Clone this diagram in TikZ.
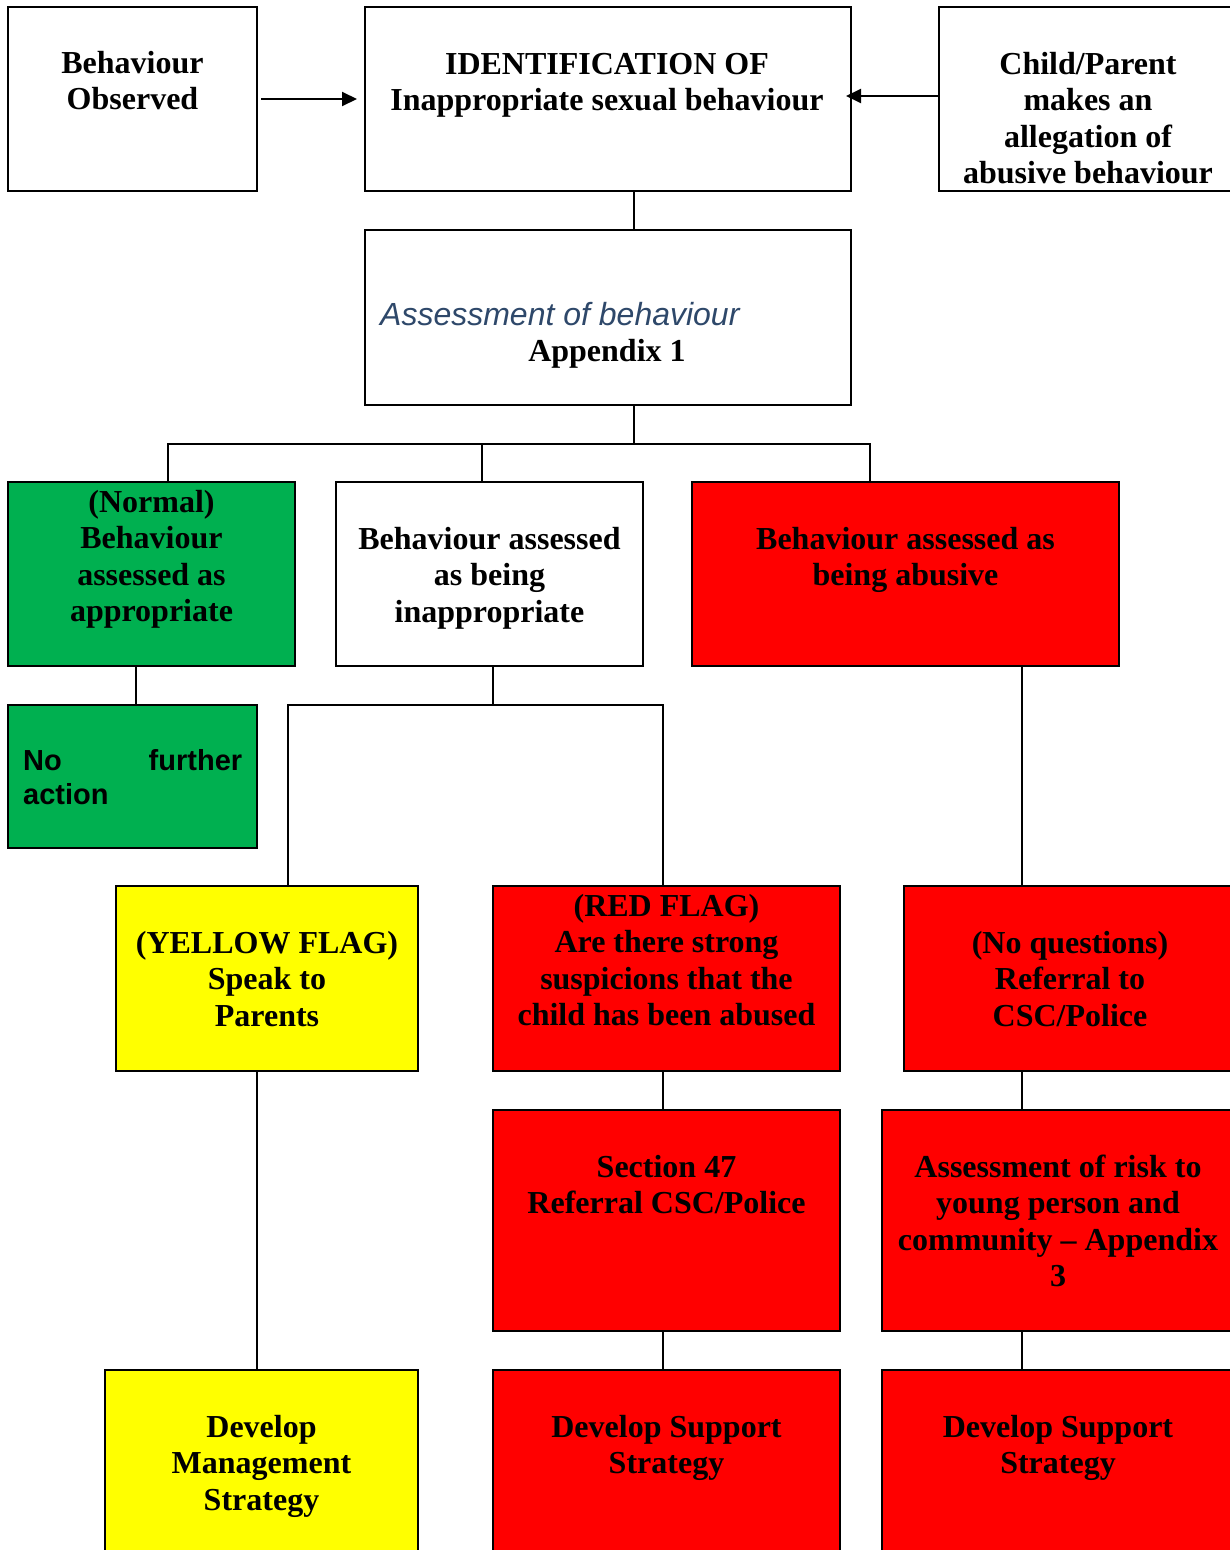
\documentclass[tikz,border=0pt]{standalone}
\usepackage{fontspec}
\setmainfont{Liberation Serif}
\newfontfamily\arialfont{Liberation Sans}
\usetikzlibrary{arrows.meta}

\definecolor{okgreen}{RGB}{0,176,80}
\definecolor{flagred}{RGB}{255,0,0}
\definecolor{flagyellow}{RGB}{255,255,0}
\definecolor{notecolor}{RGB}{46,72,106}

% centred lines, node baseline = first line's baseline
\newcommand\boxlines[1]{\vtop{\baselineskip=36.5pt\halign{\hfil##\hfil\cr #1\crcr}}}

% box from corner (x1,y1) to (x2,y2) in page pixels
\newcommand\flowbox[6]{%
  \pgfmathsetmacro\fbWidth{#5-#3}%
  \pgfmathsetmacro\fbHeight{#6-#4}%
  \node[#2, minimum width=\fbWidth pt, minimum height=\fbHeight pt] (#1)
    at ({(#3+#5)/2},{(#4+#6)/2}) {};}

\tikzset{
  frame/.style={draw=black, line width=2.4pt, inner sep=0pt, outer sep=0pt, rectangle},
  plainbox/.style={frame, fill=white},
  greenbox/.style={frame, fill=okgreen},
  redbox/.style={frame, fill=flagred},
  yellowbox/.style={frame, fill=flagyellow},
  conn/.style={draw=black, line width=2pt},
  arr/.style={conn, -{Triangle[length=15pt,width=14pt]}},
  label/.style={inner sep=0pt, anchor=base, font=\bfseries\fontsize{32}{36.5}\selectfont},
}

\begin{document}
\begin{tikzpicture}[x=1pt, y=-1pt]
\useasboundingbox (0,0) rectangle (1230,1550);
\clip (0,0) rectangle (1230,1550);

% boxes
\flowbox{obs}{plainbox}{8}{7}{257}{191}
\flowbox{ident}{plainbox}{365}{7}{851}{191}
\flowbox{child}{plainbox}{939}{7}{1237}{191}
\flowbox{assess}{plainbox}{365}{230}{851}{405}
\flowbox{normal}{greenbox}{8}{482}{295}{666}
\flowbox{inappr}{plainbox}{336}{482}{643}{666}
\flowbox{abusive}{redbox}{692}{482}{1119}{666}
\flowbox{nfa}{greenbox}{8}{705}{257}{848}
\flowbox{yellow}{yellowbox}{116}{886}{418}{1071}
\flowbox{redflag}{redbox}{493}{886}{840}{1071}
\flowbox{noq}{redbox}{904}{886}{1236}{1071}
\flowbox{s47}{redbox}{493}{1110}{840}{1331}
\flowbox{risk}{redbox}{882}{1110}{1234}{1331}
\flowbox{devm}{yellowbox}{105}{1370}{418}{1600}
\flowbox{devsa}{redbox}{493}{1370}{840}{1600}
\flowbox{devsb}{redbox}{882}{1370}{1234}{1600}

% texts
\node[label] (tobs) at (132.5,73) {\boxlines{Behaviour\cr Observed}};
\node[label] (tident) at (607,74) {\boxlines{IDENTIFICATION OF\cr Inappropriate sexual behaviour}};
\node[label] (tchild) at (1088,74) {\boxlines{Child/Parent\cr makes an\cr allegation of\cr abusive behaviour}};
\node[inner sep=0pt, anchor=base west, text=notecolor,
      font=\arialfont\itshape\fontsize{32}{36.5}\selectfont] (tassess) at (380,325) {Assessment of behaviour};
\node[label] (tappx) at (607,361) {Appendix 1};
\node[label] (tnormal) at (151.5,512) {\boxlines{(Normal)\cr Behaviour\cr assessed as\cr appropriate}};
\node[label] (tinappr) at (489.5,549) {\boxlines{Behaviour assessed\cr as being\cr inappropriate}};
\node[label] (tabusive) at (905.5,549) {\boxlines{Behaviour assessed as\cr being abusive}};
\node[inner sep=0pt, anchor=base west, font=\arialfont\bfseries\fontsize{29}{34}\selectfont] (tnfa) at (23,770)
  {\vtop{\hsize=219pt\parindent=0pt\tolerance=10000\hbadness=10000\hyphenpenalty=10000\exhyphenpenalty=10000\baselineskip=34pt No further action\par}};
\node[label] (tyellow) at (267,953) {\boxlines{(YELLOW FLAG)\cr Speak to\cr Parents}};
\node[label] (tredflag) at (666.5,916) {\boxlines{(RED FLAG)\cr Are there strong\cr suspicions that the\cr child has been abused}};
\node[label] (tnoq) at (1070,953) {\boxlines{(No questions)\cr Referral to\cr CSC/Police}};
\node[label] (ts47) at (666.5,1177) {\boxlines{Section 47\cr Referral CSC/Police}};
\node[label] (trisk) at (1058,1177) {\boxlines{Assessment of risk to\cr young person and\cr community -- Appendix\cr 3}};
\node[label] (tdevm) at (261.5,1437) {\boxlines{Develop\cr Management\cr Strategy}};
\node[label] (tdevsa) at (666.5,1437) {\boxlines{Develop Support\cr Strategy}};
\node[label] (tdevsb) at (1058,1437) {\boxlines{Develop Support\cr Strategy}};

% connector positions
\coordinate (tA) at (634,0);
\coordinate (busL) at (168,444);
\coordinate (busM) at (482,444);
\coordinate (busR) at (870,444);
\coordinate (gA) at (136,0);
\coordinate (iA) at (493,705);
\coordinate (iL) at (288,705);
\coordinate (iR) at (663,705);
\coordinate (aA) at (1022,0);
\coordinate (yA) at (257,0);

% arrows into the identification box
\draw[arr, shorten <=4pt, shorten >=8pt] (obs.east) -- (ident.west);
\draw[arr, shorten >=-5pt] ([yshift=3pt]child.west) -- ([yshift=3pt]ident.east);

% tree connectors
\draw[conn] (ident.south -| tA) -- (assess.north -| tA);
\draw[conn] (assess.south -| tA) -- (tA |- busL);
\draw[conn] (busL |- normal.north) -- (busL) -- (busR) -- (busR |- abusive.north);
\draw[conn] (busM) -- (busM |- inappr.north);
\draw[conn] (normal.south -| gA) -- (nfa.north -| gA);
\draw[conn] (inappr.south -| iA) -- (iA);
\draw[conn] (yellow.north -| iL) -- (iL) -- (iR) -- (redflag.north -| iR);
\draw[conn] (abusive.south -| aA) -- (noq.north -| aA);
\draw[conn] (noq.south -| aA) -- (risk.north -| aA);
\draw[conn] (risk.south -| aA) -- (devsb.north -| aA);
\draw[conn] (redflag.south -| iR) -- (s47.north -| iR);
\draw[conn] (s47.south -| iR) -- (devsa.north -| iR);
\draw[conn] (yellow.south -| yA) -- (devm.north -| yA);
\end{tikzpicture}
\end{document}
